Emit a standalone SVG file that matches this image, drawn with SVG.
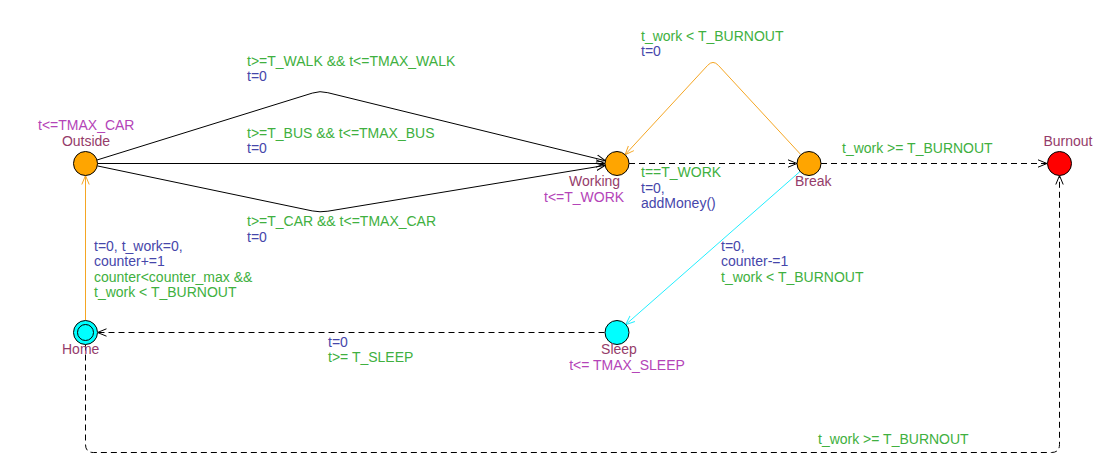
<svg xmlns="http://www.w3.org/2000/svg" width="1109" height="466" viewBox="0 0 1109 466">
<style>
text{font-family:"Liberation Sans",Arial,sans-serif;font-size:14px}
.g{fill:#40b040}
.a{fill:#4646aa}
.n{fill:#953c6a}
.i{fill:#b444b8}
.loc{stroke:#000;stroke-width:1}
.e{fill:none;stroke:#000;stroke-width:1}
.d{stroke-dasharray:6,4}
.o{stroke:#f5a623}
.c{stroke:#22eeff}
</style>
<defs>
<marker id="ab" viewBox="0 0 9 9" refX="9" refY="4.5" markerWidth="9" markerHeight="9" markerUnits="userSpaceOnUse" orient="auto"><path d="M0,0.8 L9,4.5 L0,8.2" fill="none" stroke="#000" stroke-width="1"/></marker>
<marker id="ao" viewBox="0 0 9 9" refX="9" refY="4.5" markerWidth="9" markerHeight="9" markerUnits="userSpaceOnUse" orient="auto"><path d="M0,0.8 L9,4.5 L0,8.2" fill="none" stroke="#f5a623" stroke-width="1"/></marker>
<marker id="ac" viewBox="0 0 9 9" refX="9" refY="4.5" markerWidth="9" markerHeight="9" markerUnits="userSpaceOnUse" orient="auto"><path d="M0,0.8 L9,4.5 L0,8.2" fill="none" stroke="#22eeff" stroke-width="1"/></marker>
</defs>
<rect width="1109" height="466" fill="#fff"/>
<g id="connectors">
<g id="e-walk"><path class="e" d="M97,160 L312.3,93.1 Q320,90.5 327.8,92.7 L605.3,160.7" marker-end="url(#ab)"/>
<text class="g" x="247" y="65.5">t&gt;=T_WALK &amp;&amp; t&lt;=TMAX_WALK</text><text class="a" x="247" y="81">t=0</text></g>
<g id="e-bus"><path class="e" d="M97.5,163.5 L605,163.5" marker-end="url(#ab)"/>
<text class="g" x="247" y="137.5">t&gt;=T_BUS &amp;&amp; t&lt;=TMAX_BUS</text><text class="a" x="247" y="153">t=0</text></g>
<g id="e-car"><path class="e" d="M97.3,165.9 L312.2,210.9 Q320,212.5 327.9,211.2 L605.1,165.4" marker-end="url(#ab)"/>
<text class="g" x="247" y="226">t&gt;=T_CAR &amp;&amp; t&lt;=TMAX_CAR</text><text class="a" x="247" y="242">t=0</text></g>
<g id="e-work-break"><path class="e d" d="M629,163.5 L797,163.5" marker-end="url(#ab)"/>
<text class="g" x="641" y="177">t==T_WORK</text><text class="a" x="641" y="193">t=0,</text><text class="a" x="641" y="208">addMoney()</text></g>
<g id="e-break-work"><path class="e o" d="M800.9,154.7 L718.4,65.4 Q713,59.5 707.6,65.4 L625.1,154.7" marker-end="url(#ao)"/>
<text class="g" x="641" y="41">t_work &lt; T_BURNOUT</text><text class="a" x="641" y="56">t=0</text></g>
<g id="e-break-burnout"><path class="e d" d="M821,163.5 L1047,163.5" marker-end="url(#ab)"/>
<text class="g" x="842" y="153">t_work &gt;= T_BURNOUT</text></g>
<g id="e-break-sleep"><path class="e c" d="M800,171.5 L625.7,324.6" marker-end="url(#ac)"/>
<text class="a" x="721" y="251">t=0,</text><text class="a" x="721" y="266">counter-=1</text><text class="g" x="721" y="282">t_work &lt; T_BURNOUT</text></g>
<g id="e-sleep-home"><path class="e d" d="M604.5,332.5 L97.5,332.5" marker-end="url(#ab)"/>
<text class="a" x="328" y="347">t=0</text><text class="g" x="328" y="362">t&gt;= T_SLEEP</text></g>
<g id="e-home-outside"><path class="e o" d="M85.5,320.5 L85.5,175.5" marker-end="url(#ao)"/>
<text class="a" x="94" y="251">t=0, t_work=0,</text><text class="a" x="94" y="266">counter+=1</text><text class="g" x="94" y="282">counter&lt;counter_max &amp;&amp;</text><text class="g" x="94" y="297">t_work &lt; T_BURNOUT</text></g>
<g id="e-home-burnout"><path class="e d" d="M85.5,344.5 L85.5,444.5 Q85.5,452.5 93.5,452.5 L1051.5,452.5 Q1059.5,452.5 1059.5,444.5 L1059.5,175.5" marker-end="url(#ab)"/>
<text class="g" x="818" y="444">t_work &gt;= T_BURNOUT</text></g>
</g>
<g id="Outside"><circle class="loc" cx="85.5" cy="163.5" r="12" fill="#ffa500"/><text class="i" x="38" y="130">t&lt;=TMAX_CAR</text><text class="n" x="86" y="146" text-anchor="middle">Outside</text></g>
<g id="Working"><circle class="loc" cx="617" cy="163.5" r="12" fill="#ffa500"/><text class="n" x="569" y="186">Working</text><text class="i" x="544" y="201.5">t&lt;=T_WORK</text></g>
<g id="Break"><circle class="loc" cx="809" cy="163.5" r="12" fill="#ffa500"/><text class="n" x="795" y="186">Break</text></g>
<g id="Burnout"><circle class="loc" cx="1059.5" cy="163.5" r="12" fill="#ff0000"/><text class="n" x="1068" y="146" text-anchor="middle">Burnout</text></g>
<g id="Home"><circle class="loc" cx="85.5" cy="332.5" r="12" fill="#00ffff"/><circle class="loc" cx="85.5" cy="332.5" r="8" fill="none"/><text class="n" x="62" y="354">Home</text></g>
<g id="Sleep"><circle class="loc" cx="617" cy="332.5" r="12" fill="#00ffff"/><text class="n" x="619" y="354" text-anchor="middle">Sleep</text><text class="i" x="627" y="370" text-anchor="middle">t&lt;= TMAX_SLEEP</text></g>
</svg>
